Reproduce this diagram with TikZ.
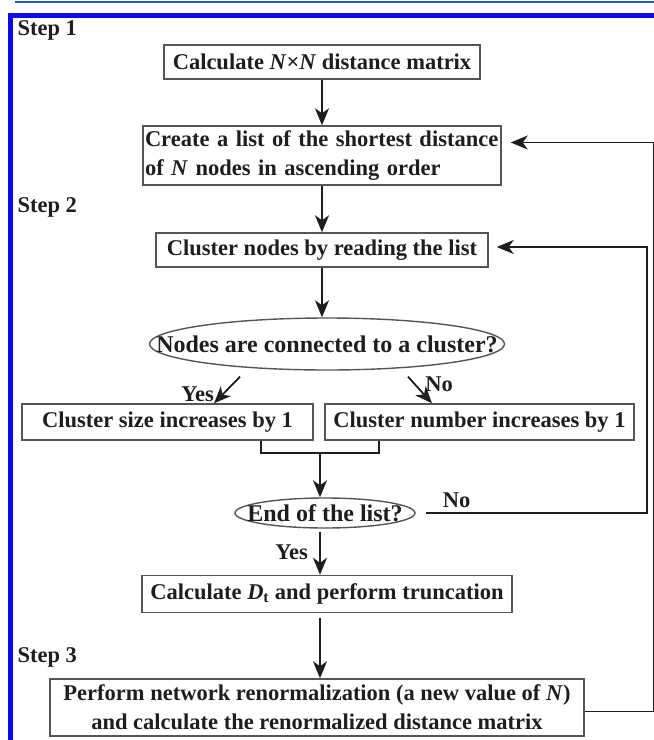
\documentclass[tikz,border=0pt]{standalone}
\usepackage{fontspec}
\setmainfont{Liberation Serif}
\usetikzlibrary{shapes.geometric,arrows.meta,positioning}
\definecolor{frameblue}{RGB}{12,12,235}
\definecolor{rulestripe}{RGB}{35,95,170}
\definecolor{inkgray}{RGB}{30,30,30}
\definecolor{edgegray}{RGB}{85,85,85}
\begin{document}
\begin{tikzpicture}[x=1pt, y=-1pt,
  every node/.style={font=\fontsize{22.5}{29}\selectfont\bfseries, text=inkgray},
  stepbox/.style={draw=edgegray, line width=1.4pt, inner sep=0pt, minimum height=34pt},
  query/.style={ellipse, draw=edgegray, line width=1.4pt, inner sep=0pt,
    font=\fontsize{24}{29}\selectfont\bfseries},
  flow/.style={draw=inkgray, line width=1.8pt, -{Stealth[length=17pt, width=14pt, inset=5pt]}},
  wire/.style={draw=inkgray, line width=1.8pt}
]
  \useasboundingbox (0,0) rectangle (654,740);
  \draw[rulestripe, line width=2pt] (15,2) -- (654,2);
  \draw[frameblue, line width=5pt] (10,740) -- (10,15) -- (654,15);

  \node (StepOne) [anchor=west] at (14,30) {Step 1};
  \node (CalcDist) [stepbox, minimum width=316pt] at (322,62)
    {Calculate \textit{N}×\textit{N} distance matrix};
  \node (MakeList) [stepbox, minimum width=358pt, minimum height=59pt,
    text width=354pt, align=left] at (322,155.5)
    {Create a list of the shortest distance\\of \textit{N} nodes in ascending order};
  \node (StepTwo) [anchor=west] at (14,207) {Step 2};
  \node (ClusterNodes) [stepbox, minimum width=332pt] at (322,250)
    {Cluster nodes by reading the list};
  \node (ConnQ) [query, minimum width=355pt, minimum height=52pt] at (327,344)
    {\makebox[0pt]{Nodes are connected to a cluster?}};
  \node (SizeUp) [stepbox, minimum width=291pt, minimum height=36pt] at (167.5,422)
    {Cluster size increases by 1};
  \node (NumberUp) [stepbox, minimum width=309pt, minimum height=36pt] at (479.5,422)
    {Cluster number increases by 1};
  \coordinate (Merge) at (320,453);
  \node (EndQ) [query, minimum width=180pt, minimum height=30pt] at (325,513)
    {\makebox[0pt]{End of the list?}};
  \node (CalcDt) [stepbox, minimum width=370pt, minimum height=37pt] at (327,594)
    {Calculate \textit{D}\textsubscript{t} and perform truncation};
  \node (StepThree) [anchor=west] at (14,657) {Step 3};
  \node (Renorm) [stepbox, minimum width=534pt, minimum height=57pt, align=center] at (317,707.5)
    {Perform network renormalization (a new value of \textit{N})\\and calculate the renormalized distance matrix};

  \draw[flow] (CalcDist) -- (MakeList);
  \draw[flow] (MakeList) -- (ClusterNodes);
  \draw[flow] (ClusterNodes.south) -- (ClusterNodes.south |- ConnQ.north);
  \draw[flow] ([xshift=-87pt, yshift=-6pt]ConnQ.south) -- ([xshift=46.5pt]SizeUp.north)
    node[pos=0.65, left=5pt] {Yes};
  \draw[flow] ([xshift=81pt, yshift=-6pt]ConnQ.south) -- ([xshift=-47.5pt]NumberUp.north)
    node[pos=0.3, right=6pt] {No};
  \draw[wire] ([xshift=93.5pt]SizeUp.south) |- (Merge) -| ([xshift=-100.5pt]NumberUp.south);
  \draw[flow] (Merge) -- (Merge |- EndQ.north);
  \draw[flow, shorten <=3pt] (Merge |- EndQ.south) -- (Merge |- CalcDt.north)
    node[midway, left=8pt] {Yes};
  \draw[flow, shorten <=5pt] (Merge |- CalcDt.south) -- (Merge |- Renorm.north);
  \draw[flow, shorten >=8pt] ([xshift=10pt]EndQ.east)
    -- node[pos=0.14, above=1pt] {No} ++(221,0) |- ([yshift=3pt]ClusterNodes.east);
  \draw[flow, shorten >=9pt] ([yshift=-4pt]Renorm.east) -- ++(69,0)
    |- ([yshift=13pt]MakeList.east);
\end{tikzpicture}
\end{document}
